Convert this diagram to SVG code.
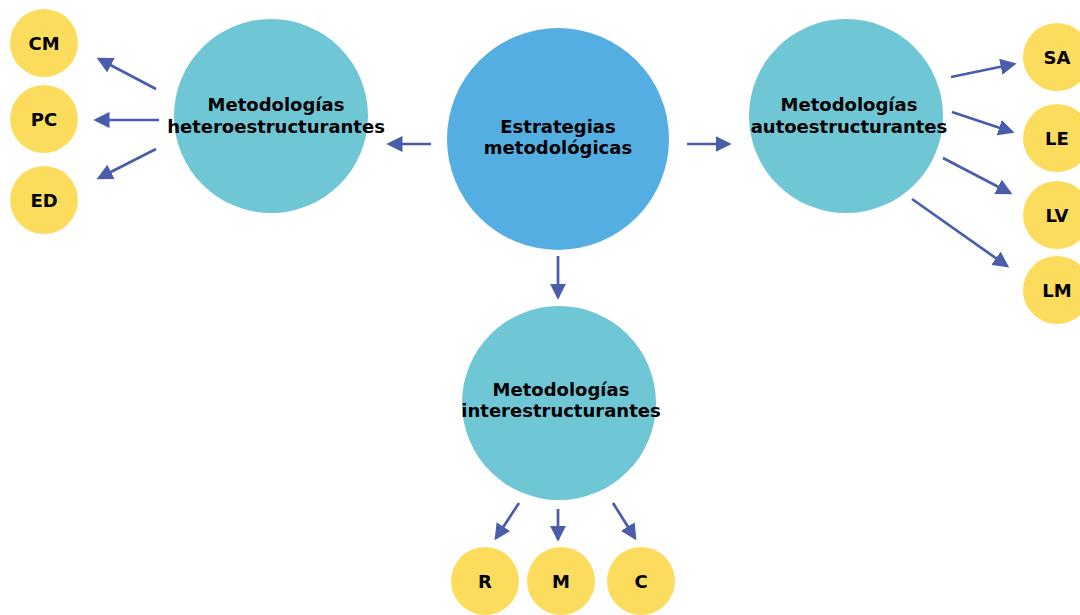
<svg xmlns="http://www.w3.org/2000/svg" width="1080" height="615" viewBox="0 0 1080 615">
<defs>
<marker id="ah" markerWidth="6" markerHeight="6" refX="5" refY="3" orient="auto" markerUnits="strokeWidth">
<path d="M0,0 L6,3 L0,6 Z" fill="#4A5DAA"/>
</marker>
<style>
.main{fill:#54AEE1}
.sec{fill:#6FC7D5}
.leaf{fill:#FCDC5C}
text{font-family:"DejaVu Sans","Verdana",sans-serif;font-weight:bold;fill:#000;text-anchor:middle}
.big{font-size:18px}
.small{font-size:18px}
.conn line{stroke:#4A5DAA;stroke-width:2.7;marker-end:url(#ah)}
</style>
</defs>
<rect width="1080" height="615" fill="#fff"/>
<g id="n-center"><circle class="main" cx="558" cy="139" r="111"/><text class="big" x="558" y="133">Estrategias</text><text class="big" x="558" y="154">metodológicas</text></g>
<g id="n-hetero"><circle class="sec" cx="271" cy="116" r="97"/><text class="big" x="276" y="111">Metodologías</text><text class="big" x="276" y="133">heteroestructurantes</text></g>
<g id="n-auto"><circle class="sec" cx="846" cy="116" r="97"/><text class="big" x="849" y="111">Metodologías</text><text class="big" x="849" y="133">autoestructurantes</text></g>
<g id="n-inter"><circle class="sec" cx="559" cy="403" r="97"/><text class="big" x="561" y="396">Metodologías</text><text class="big" x="561" y="417">interestructurantes</text></g>
<g id="n-cm"><circle class="leaf" cx="44" cy="43" r="34"/><text class="small" x="44" y="50">CM</text></g>
<g id="n-pc"><circle class="leaf" cx="44" cy="119" r="34"/><text class="small" x="44" y="126">PC</text></g>
<g id="n-ed"><circle class="leaf" cx="44" cy="200" r="34"/><text class="small" x="44" y="207">ED</text></g>
<g id="n-sa"><circle class="leaf" cx="1057" cy="57" r="34"/><text class="small" x="1057" y="64">SA</text></g>
<g id="n-le"><circle class="leaf" cx="1057" cy="138" r="34"/><text class="small" x="1057" y="145">LE</text></g>
<g id="n-lv"><circle class="leaf" cx="1057" cy="215" r="34"/><text class="small" x="1057" y="222">LV</text></g>
<g id="n-lm"><circle class="leaf" cx="1057" cy="290" r="34"/><text class="small" x="1057" y="297">LM</text></g>
<g id="n-r"><circle class="leaf" cx="485" cy="581" r="34"/><text class="small" x="485" y="588">R</text></g>
<g id="n-m"><circle class="leaf" cx="561" cy="581" r="34"/><text class="small" x="561" y="588">M</text></g>
<g id="n-c"><circle class="leaf" cx="641" cy="581" r="34"/><text class="small" x="641" y="588">C</text></g>
<g id="connectors" class="conn">
<line x1="431" y1="144" x2="389" y2="144"/>
<line x1="687" y1="144" x2="729" y2="144"/>
<line x1="558" y1="256" x2="558" y2="297"/>
<line x1="156" y1="89" x2="99" y2="59"/>
<line x1="159" y1="120" x2="96" y2="120"/>
<line x1="156" y1="149" x2="99" y2="178"/>
<line x1="951" y1="77" x2="1014" y2="64"/>
<line x1="952" y1="112" x2="1012" y2="132"/>
<line x1="943" y1="158" x2="1010" y2="193"/>
<line x1="912" y1="199" x2="1007" y2="266"/>
<line x1="519" y1="503" x2="496" y2="538"/>
<line x1="558" y1="509" x2="558" y2="539"/>
<line x1="613" y1="503" x2="635" y2="538"/>
</g>
</svg>
